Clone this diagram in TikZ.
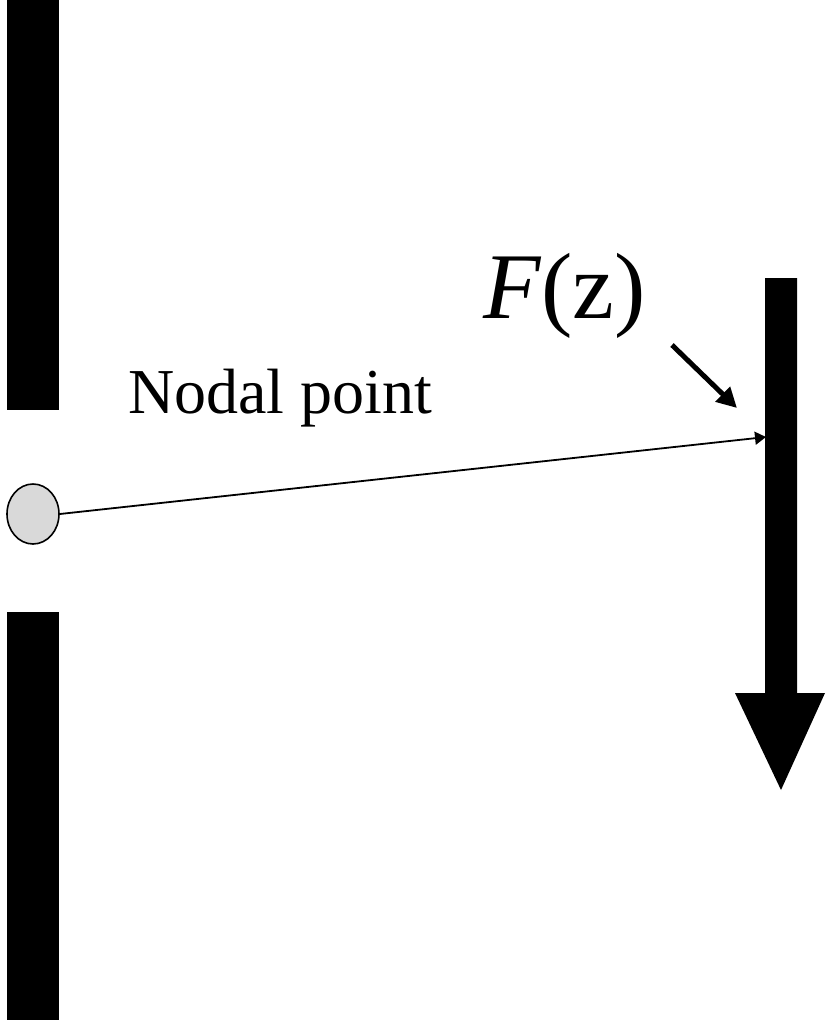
\documentclass[tikz,border=0pt]{standalone}
\usepackage{fontspec}
\setmainfont{Liberation Serif}
\usetikzlibrary{arrows.meta, shapes.geometric}

\begin{document}
\begin{tikzpicture}[
  x=1pt, y=-1pt,
  >=Stealth,
  bar/.style={fill=black, draw=none},
  ray/.style={line width=1.8pt, -{Triangle[length=11pt, width=13pt]}},
  pointer/.style={line width=5pt, -{Triangle[length=20pt, width=20pt]}},
]
% Coordinate system: pixels of the reference, y downwards
\useasboundingbox (0,0) rectangle (825,1023);

% --- Screen with a gap ---
\fill[bar] (7,0) rectangle (59,410);
\fill[bar] (7,612) rectangle (59,1020);

% --- Nodal point ---
\node[ellipse, draw, line width=1.6pt, fill=black!15,
      minimum width=52pt, minimum height=60pt, inner sep=0pt] (nodal) at (33,514) {};

% --- Image plane F(z) with its direction ---
\fill[bar] (765,278) -- (797,278) -- (797,693) -- (825,693)
  -- (781,790) -- (735,693) -- (765,693) -- cycle;
\coordinate (hit) at (766,437);

% --- Ray ---
\draw[ray] (nodal.east) -- (hit);

% --- Labels ---
\node[anchor=base west, inner sep=0pt, font=\fontsize{64}{70}\selectfont]
  (nodallabel) at (128,413) {Nodal point};
\node[anchor=base west, inner sep=0pt, font=\fontsize{94}{100}\selectfont]
  (flabel) at (483,318) {\textit{F}(z)};
\coordinate (ptail) at (672,345);
\coordinate (phead) at (737,408);
\draw[pointer] (ptail) -- (phead);

\end{tikzpicture}
\end{document}
